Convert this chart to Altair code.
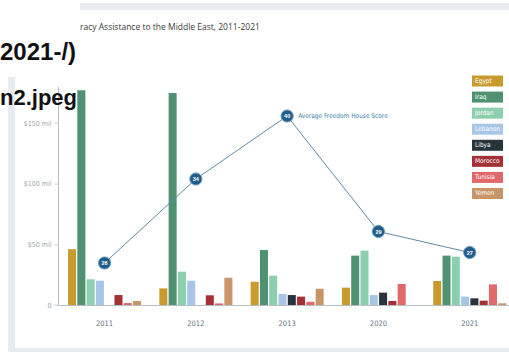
import altair as alt
import pandas as pd

# ---------------- data ----------------
countries = ["Egypt", "Iraq", "Jordan", "Lebanon", "Libya", "Morocco", "Tunisia", "Yemen"]
colors = ["#c99a2e", "#4f9170", "#8ccfae", "#a8c5e8", "#27343b", "#a33035", "#e0676a", "#c8956a"]
years = ["2011", "2012", "2013", "2020", "2021"]

aid_2011 = [46.0, 177.0, 21.2, 20.0, 0.0, 8.2, 1.6, 3.3]
aid_2012 = [13.7, 174.7, 27.5, 20.0, 0.0, 8.0, 1.3, 22.5]
aid_2013 = [19.2, 45.3, 24.2, 9.1, 8.2, 6.9, 2.7, 13.4]
aid_2020 = [14.3, 40.7, 44.8, 8.2, 10.2, 3.3, 17.3, 0.0]
aid_2021 = [19.8, 40.7, 39.8, 6.9, 5.5, 3.6, 17.0, 1.4]

freedom_score = [26, 34, 40, 29, 27]

y_tick_values = [0, 50, 100, 150]
y_tick_labels = ["0", "$50 mil", "$100 mil", "$150 mil"]

title_text = "racy Assistance to the Middle East, 2011-2021"
overlay_top = "2021-/)"
overlay_bottom = "n2.jpeg"
score_label = "Average Freedom House Score"

# ---------------- tables ----------------
aid_by_year = dict(zip(years, [aid_2011, aid_2012, aid_2013, aid_2020, aid_2021]))
bars_df = pd.DataFrame(
    [{"year": y, "country": c, "aid": v} for y in years for c, v in zip(countries, aid_by_year[y])]
)
score_df = pd.DataFrame({"year": years, "score": freedom_score})
legend_df = pd.DataFrame({"country": countries})
one = pd.DataFrame({"k": [0]})

# ---------------- layout ----------------
LEFT, TOP = 58, 86.6
W, H = 458.3, 218.4
NARROW = "Liberation Sans Narrow, DejaVu Sans Condensed, Roboto, sans-serif"
FRAME = "#e6ecf1"

label_expr = ""
for v, lab in zip(y_tick_values, y_tick_labels):
    label_expr += f"datum.value == {v} ? '{lab}' : "
label_expr += "''"

x_scale = alt.Scale(domain=years, paddingInner=0.2, paddingOuter=0.11)
color_scale = alt.Scale(domain=countries, range=colors)
x_enc = alt.X(
    "year:N", sort=years, scale=x_scale,
    axis=alt.Axis(title=None, labelAngle=0, ticks=False, tickSize=0, labelPadding=18,
                  labelBaseline="middle", labelColor="#5f7484", labelFontSize=7.5,
                  labelFont=NARROW, domainColor="#b7bec3", domainWidth=1, grid=False),
)

# frame stripes
frame_left = alt.Chart(one).mark_rule(color=FRAME, strokeWidth=7).encode(
    x=alt.value(8 + 3.5 - LEFT), y=alt.value(77 - TOP), y2=alt.value(352 - TOP))
frame_top = alt.Chart(one).mark_rule(color=FRAME, strokeWidth=7).encode(
    x=alt.value(80 - LEFT), x2=alt.value(509 - LEFT), y=alt.value(6.5 - TOP))
frame_bottom = alt.Chart(one).mark_rule(color=FRAME, strokeWidth=5).encode(
    x=alt.value(8 - LEFT), x2=alt.value(509 - LEFT), y=alt.value(350.5 - TOP))

bars = alt.Chart(bars_df).mark_bar().encode(
    x=x_enc,
    xOffset=alt.XOffset("country:N", sort=countries,
                        scale=alt.Scale(domain=countries, paddingInner=0.135, paddingOuter=0)),
    y=alt.Y("aid:Q", scale=alt.Scale(domain=[0, 180], nice=False, zero=True),
            axis=alt.Axis(title=None, values=y_tick_values, labelExpr=label_expr, grid=False,
                          tickSize=4, tickColor="#c3c9cd", domainColor="#b7bec3",
                          labelColor="#9aa3a9", labelFontSize=7, labelFont=NARROW,
                          labelPadding=3)),
    color=alt.Color("country:N", scale=color_scale, legend=None),
)

y_score = alt.Y("score:Q", scale=alt.Scale(domain=[22, 42.8], nice=False, zero=False), axis=None)
score_base = alt.Chart(score_df).encode(x=x_enc, y=y_score)
line = score_base.mark_line(color="#5f89a6", strokeWidth=1)
dots = score_base.mark_circle(size=150, color="#215d8a", stroke="#6a9dc4", strokeWidth=1, opacity=1)
nums = score_base.mark_text(color="white", fontSize=5.5, fontWeight="bold").encode(text="score:Q")
annot = score_base.transform_filter(alt.datum.year == "2013").mark_text(
    align="left", baseline="middle", dx=11, color="#3d7fae", fontSize=6.5, font=NARROW
).encode(text=alt.value(score_label))
score_layer = alt.layer(line, dots, nums, annot)

leg_y = alt.Y("country:N", sort=countries,
              scale=alt.Scale(domain=countries, range=[-11.1, 112.4], paddingInner=0.315, paddingOuter=0),
              axis=None)
leg_boxes = alt.Chart(legend_df).mark_bar().encode(
    y=leg_y, x=alt.value(414), x2=alt.value(445),
    color=alt.Color("country:N", scale=color_scale, legend=None))
leg_text = alt.Chart(legend_df).mark_text(
    align="left", baseline="middle", color="white", fontSize=6.5, font=NARROW
).encode(y=leg_y, x=alt.value(417), text="country:N")
legend_layer = alt.layer(leg_boxes, leg_text)

title = alt.Chart(one).mark_text(
    align="left", baseline="middle", fontSize=8.5, font="Open Sans", color="#3a3a3a", text=title_text
).encode(x=alt.value(80 - LEFT), y=alt.value(27 - TOP))
over1 = alt.Chart(one).mark_text(
    align="left", baseline="alphabetic", fontSize=24, fontWeight="bold",
    font="Liberation Sans, Arial, sans-serif", color="#111111", text=overlay_top
).encode(x=alt.value(0 - LEFT), y=alt.value(60 - TOP))
over2 = alt.Chart(one).mark_text(
    align="left", baseline="alphabetic", fontSize=22, fontWeight="bold",
    font="Liberation Sans, Arial, sans-serif", color="#111111", text=overlay_bottom
).encode(x=alt.value(0 - LEFT), y=alt.value(105 - TOP))

chart = alt.layer(
    frame_left, frame_top, frame_bottom, bars, score_layer, legend_layer, title, over1, over2
).resolve_scale(y="independent").properties(
    width=W, height=H,
    autosize=alt.AutoSizeParams(type="none"),
    padding={"left": LEFT, "top": TOP, "right": 509 - LEFT - W, "bottom": 352 - TOP - H},
    background="white",
).configure_view(stroke=None)

chart.save("out.html", embed_options={"renderer": "svg", "actions": False})
